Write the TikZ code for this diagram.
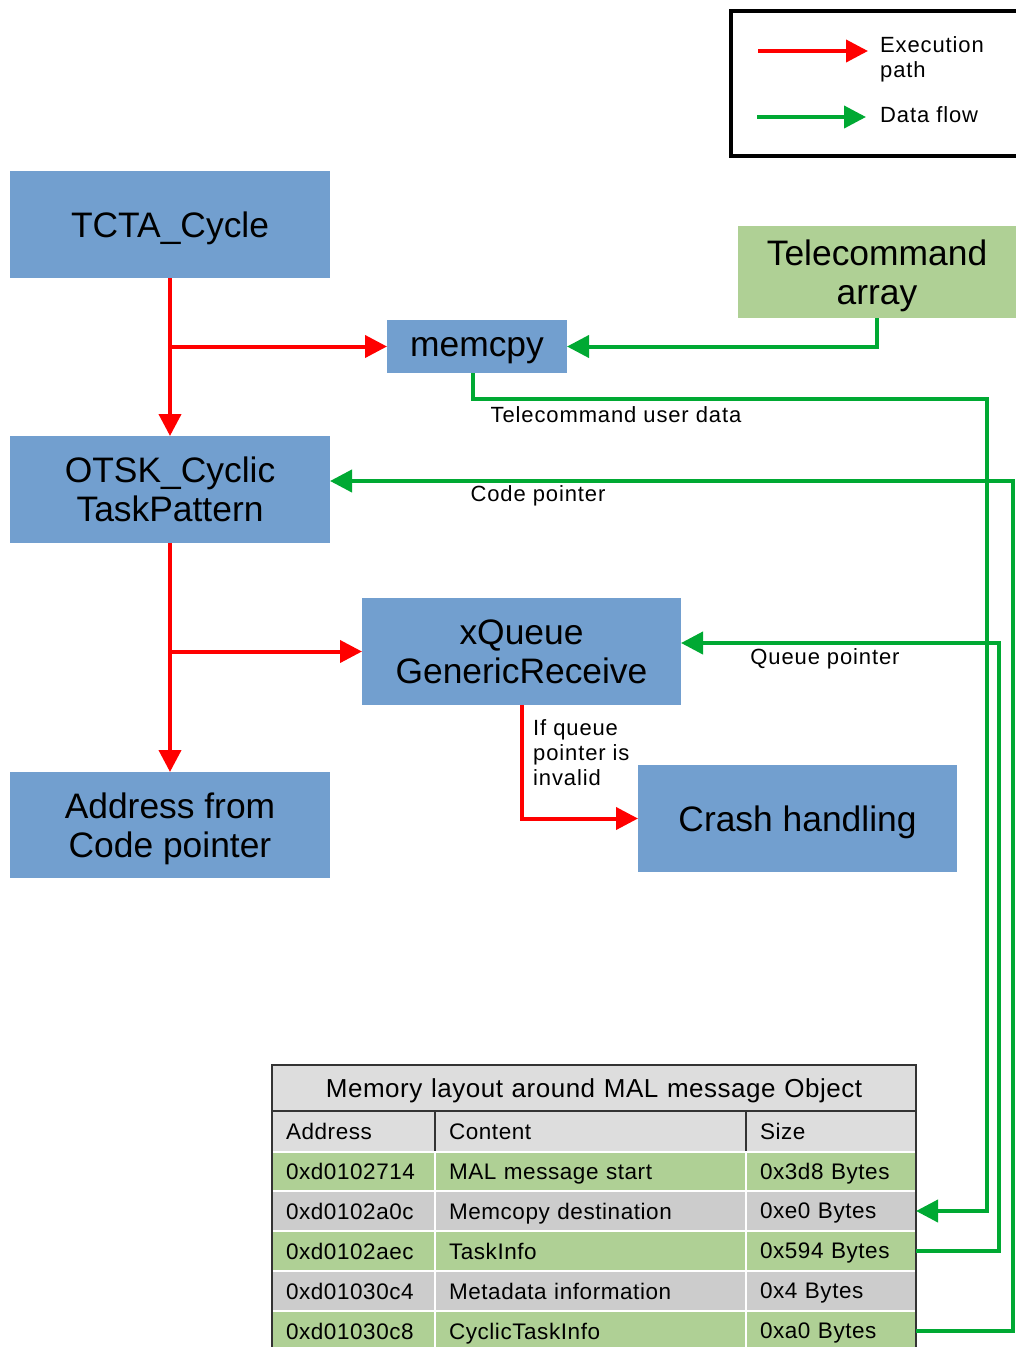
\documentclass[tikz,border=0pt]{standalone}
\usepackage{fontspec}
\setmainfont{Liberation Sans}
\usetikzlibrary{arrows.meta}
\definecolor{boxblue}{HTML}{729FCF}
\definecolor{boxgreen}{HTML}{AFD095}
\definecolor{linegreen}{HTML}{00A933}
\definecolor{rowgray}{HTML}{CCCCCC}
\definecolor{headgray}{HTML}{DDDDDD}
\definecolor{tline}{HTML}{333333}
\begin{document}
\begin{tikzpicture}[x=1pt,y=-1pt,
  bigbox/.style={fill=boxblue, anchor=north west, inner sep=0pt, outer sep=0pt, align=center, font=\fontsize{35.4}{39}\selectfont},
  oneline/.style={text depth=0pt},
  exec/.style={draw=red, line width=4pt, -{Triangle[length=22pt,width=22pt]}},
  data/.style={draw=linegreen, line width=4pt, -{Triangle[length=22pt,width=22pt]}},
  lab/.style={inner sep=0pt, font=\fontsize{22}{25}\selectfont\addfontfeature{LetterSpace=4}},
  tcell/.style={anchor=north west, inner xsep=14pt, inner ysep=0pt, outer sep=0pt, align=left, line width=2pt, text depth=0pt, font=\fontsize{22.5}{26}\selectfont\addfontfeature{LetterSpace=2.5}},
  acell/.style={tcell, minimum width=163pt, text width=135pt},
  ccell/.style={tcell, minimum width=311pt, text width=283pt},
  scell/.style={tcell, minimum width=170pt, text width=142pt},
]
\useasboundingbox (0,0) rectangle (1016,1347);
\clip (0,0) rectangle (1016,1347);

% legend
\node[draw=black, line width=4pt, anchor=north west, minimum width=300pt, minimum height=145pt, inner sep=0pt, outer sep=0pt] (legend) at (731,11) {};
\coordinate (le1s) at (758,51);
\coordinate (le1e) at (868,51);
\coordinate (le2s) at (757,117);
\coordinate (le2e) at (866,117);
\draw[exec] (le1s) -- (le1e);
\draw[data] (le2s) -- (le2e);
\node[lab, anchor=north west, align=left] (lt1) at (880,36) {Execution\\path};
\node[lab, anchor=west] (lt2) at (880,115) {Data flow};

% boxes
\node[bigbox, oneline, minimum width=320pt, minimum height=107pt] (tcta) at (10,171) {TCTA\_Cycle};
\node[bigbox, oneline, fill=boxgreen, minimum width=278pt, minimum height=92pt] (tc) at (738,226) {Telecommand\\array};
\node[bigbox, oneline, minimum width=180pt, minimum height=53pt] (memcpy) at (387,320) {memcpy};
\node[bigbox, minimum width=320pt, minimum height=107pt] (otsk) at (10,436) {OTSK\_Cyclic\\TaskPattern};
\node[bigbox, minimum width=319pt, minimum height=107pt] (xq) at (362,598) {xQueue\\GenericReceive};
\node[bigbox, oneline, minimum width=320pt, minimum height=106pt] (addr) at (10,772) {Address from\\Code pointer};
\node[bigbox, oneline, minimum width=319pt, minimum height=107pt] (crash) at (638,765) {Crash handling};

% table
\node[tcell, fill=headgray, draw=tline, minimum width=644pt, minimum height=46pt, text width=616pt, align=center, font=\fontsize{26}{30}\selectfont\addfontfeature{LetterSpace=2}] (title) at (272,1065) {Memory layout around MAL message Object};
\node[acell, fill=headgray, draw=tline, minimum height=41pt] (ha) at (272,1111) {Address};
\node[ccell, fill=headgray, draw=tline, minimum height=41pt] (hc) at (435,1111) {Content};
\node[scell, fill=headgray, draw=tline, minimum height=41pt] (hs) at (746,1111) {Size};
\foreach \n/\y/\h/\col/\a/\c/\s in {
  1/1152/39/boxgreen/0xd0102714/MAL message start/0x3d8 Bytes,
  2/1191/40/rowgray/0xd0102a0c/Memcopy destination/0xe0 Bytes,
  3/1231/40/boxgreen/0xd0102aec/TaskInfo/0x594 Bytes,
  4/1271/40/rowgray/0xd01030c4/Metadata information/0x4 Bytes,
  5/1311/40/boxgreen/0xd01030c8/CyclicTaskInfo/0xa0 Bytes}{
  \node[acell, fill=\col, draw=white, minimum height=\h pt] (a\n) at (272,\y) {\a};
  \node[ccell, fill=\col, draw=white, minimum height=\h pt] (c\n) at (435,\y) {\c};
  \node[scell, fill=\col, draw=white, minimum height=\h pt] (s\n) at (746,\y) {\s};
}
\draw[tline, line width=2pt] (title.north west) -- (a5.south west);
\draw[tline, line width=2pt] (title.north east) -- (s5.south east);

% execution path
\draw[exec] (tcta.south) -- (otsk.north);
\draw[exec] (tcta.south |- memcpy.west) -- (memcpy.west);
\draw[exec] (otsk.south) -- (addr.north);
\draw[exec] (otsk.south |- xq.west) -- (xq.west);
\draw[exec] (xq.south) |- (crash.west);
\node[lab, anchor=north west, align=left] (inv) at (533,719) {If queue\\pointer is\\invalid};

% data flow
\draw[data] (tc.south) |- (memcpy.east);
\coordinate (tcorner) at (987,399);
\coordinate (qcorner) at (999,643);
\coordinate (ccorner) at (1013,481);
\draw[data] ([xshift=-4pt]memcpy.south) |- (tcorner) |- (s2.east);
\draw[data] (s3.east) -| (qcorner) -- (xq.east |- qcorner);
\draw[data] (s5.east) -| (ccorner) -- (otsk.east |- ccorner);
\node[lab] (l1) at (616,415) {Telecommand user data};
\node[lab] (l2) at (538,496) {Code pointer};
\node[lab] (l3) at (825,659) {Queue pointer};
\end{tikzpicture}
\end{document}
